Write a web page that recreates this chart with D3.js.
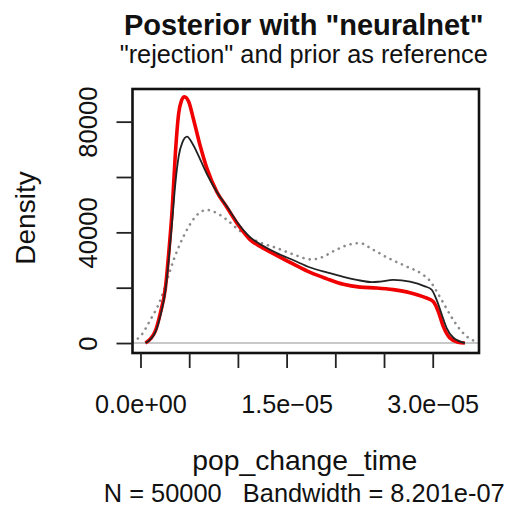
<!DOCTYPE html>
<html>
<head>
<meta charset="utf-8">
<script src="https://cdn.jsdelivr.net/npm/d3@7"></script>
<style>
  html, body { margin: 0; padding: 0; background: #fff; }
  svg { display: block; }
  text { font-family: "Liberation Sans", Arial, Helvetica, sans-serif; fill: #111; }
</style>
</head>
<body>
<svg id="chart" width="526" height="512"></svg>
<script>
// Posterior density of pop_change_time (neuralnet), with the rejection
// posterior and the prior drawn as references.

const titleText = 'Posterior with "neuralnet"';
const subtitleText = '"rejection" and prior as reference';
const xLabel = "pop_change_time";
const subLabel = "N = 50000   Bandwidth = 8.201e-07";
const yLabel = "Density";

// Axis ticks
const xTicks = [0, 5e-6, 1e-5, 1.5e-5, 2e-5, 2.5e-5, 3e-5];
const xTickLabels = ["0.0e+00", "", "", "1.5e\u221205", "", "", "3.0e\u221205"];
const yTicks = [0, 20000, 40000, 60000, 80000];
const yTickLabels = ["0", "", "40000", "", "80000"];

// Axis limits
const xDomain = [-0.82e-6, 34.75e-6];
const yDomain = [-3600, 91800];

// neuralnet posterior (red)
const neuralnetX = [0.51, 1.02, 1.54, 2.05, 2.56, 2.90, 3.25, 3.59, 3.92, 4.20, 4.51, 4.95, 5.46, 6.15, 6.83, 7.86, 8.88, 10.07, 11.27, 12.30, 14.01, 15.71, 17.42, 19.13, 20.83, 22.54, 24.25, 25.95, 27.66, 29.20, 30.05, 30.56, 31.08, 31.76, 32.58, 33.30].map(v => v * 1e-6);
const neuralnetY = [0, 1500, 4500, 11000, 20000, 32500, 48100, 69000, 83000, 87500, 89000, 87200, 80600, 71000, 63000, 54500, 49000, 42500, 37300, 34900, 31600, 28500, 25500, 23200, 21200, 20200, 19900, 19300, 18200, 16500, 15000, 11500, 6000, 1800, 300, 0];

// rejection posterior (black)
const rejectionX = [0.51, 1.02, 1.54, 2.05, 2.56, 2.90, 3.25, 3.59, 3.92, 4.30, 4.78, 5.30, 6.15, 6.83, 7.86, 8.88, 10.07, 11.27, 12.30, 14.01, 15.71, 17.42, 19.13, 20.83, 22.54, 23.77, 24.59, 25.95, 27.66, 29.20, 29.88, 30.40, 30.91, 31.42, 32.10, 33.30].map(v => v * 1e-6);
const rejectionY = [0, 1300, 4000, 10000, 19000, 30000, 44000, 58000, 67500, 72500, 74600, 72300, 66200, 61000, 54500, 49300, 43000, 38200, 35700, 32500, 29900, 27300, 25500, 23900, 22600, 22000, 22200, 22800, 22200, 20500, 19300, 15600, 10500, 5500, 2000, 0];

// prior (grey dotted)
const priorX = [-0.82, 0, 1.02, 2.05, 2.74, 3.41, 4.10, 4.95, 5.81, 6.83, 7.86, 8.88, 10.07, 11.27, 12.30, 14.01, 15.71, 17.59, 18.62, 19.98, 21.34, 22.54, 23.74, 25.44, 27.15, 28.86, 29.71, 30.43, 31.25, 32.10, 33.12, 33.99, 34.75].map(v => v * 1e-6);
const priorY = [500, 2500, 8400, 15600, 22900, 30100, 36100, 42100, 46300, 48100, 46900, 44500, 40900, 38000, 36300, 34300, 32000, 30200, 31000, 33500, 35500, 36100, 34000, 30700, 27900, 25000, 22500, 18500, 13500, 8400, 3600, 1200, 500];

const svg = d3.select("#chart");
const plot = { left: 132.5, right: 479, top: 89, bottom: 353 };

const x = d3.scaleLinear().domain(xDomain).range([plot.left, plot.right]);
const y = d3.scaleLinear().domain(yDomain).range([plot.bottom, plot.top]);

// clip curves to the plot region
svg.append("defs").append("clipPath").attr("id", "plotClip")
  .append("rect")
  .attr("x", plot.left).attr("y", plot.top)
  .attr("width", plot.right - plot.left).attr("height", plot.bottom - plot.top);

const g = svg.append("g").attr("clip-path", "url(#plotClip)");

// zero reference line
g.append("line")
  .attr("x1", plot.left).attr("x2", plot.right)
  .attr("y1", y(0)).attr("y2", y(0))
  .attr("stroke", "#c8c8c8").attr("stroke-width", 2);

const line = d3.line().x(d => x(d[0])).y(d => y(d[1])).curve(d3.curveMonotoneX);

g.append("path")
  .datum(d3.zip(priorX, priorY))
  .attr("d", line)
  .attr("fill", "none")
  .attr("stroke", "#8c8c8c")
  .attr("stroke-width", 2.6)
  .attr("stroke-linecap", "round")
  .attr("stroke-dasharray", "0.1 6.2");

g.append("path")
  .datum(d3.zip(neuralnetX, neuralnetY))
  .attr("d", line)
  .attr("fill", "none")
  .attr("stroke", "#f00000")
  .attr("stroke-width", 3.6)
  .attr("stroke-linejoin", "round");

g.append("path")
  .datum(d3.zip(rejectionX, rejectionY))
  .attr("d", line)
  .attr("fill", "none")
  .attr("stroke", "#222")
  .attr("stroke-width", 1.8)
  .attr("stroke-linejoin", "round");

// plot frame
svg.append("rect")
  .attr("x", plot.left).attr("y", plot.top)
  .attr("width", plot.right - plot.left).attr("height", plot.bottom - plot.top)
  .attr("fill", "none").attr("stroke", "#111").attr("stroke-width", 2.6);

// x axis
const xAxis = d3.axisBottom(x)
  .tickValues(xTicks)
  .tickSize(15)
  .tickPadding(27)
  .tickFormat((d, i) => xTickLabels[i]);
const xa = svg.append("g").attr("transform", `translate(0,${plot.bottom})`).call(xAxis);
xa.select(".domain").remove();
xa.selectAll(".tick line").attr("stroke", "#222").attr("stroke-width", 1.8);
xa.selectAll(".tick text")
  .style("font-family", '"Liberation Sans", Arial, sans-serif')
  .style("font-size", "25.2px").attr("fill", "#111");

// y axis
const yAxis = d3.axisLeft(y)
  .tickValues(yTicks)
  .tickSize(16)
  .tickFormat((d, i) => yTickLabels[i]);
const ya = svg.append("g").attr("transform", `translate(${plot.left},0)`).call(yAxis);
ya.select(".domain").remove();
ya.selectAll(".tick line").attr("stroke", "#222").attr("stroke-width", 1.8);
ya.selectAll(".tick text")
  .attr("x", null).attr("dy", null)
  .attr("text-anchor", "middle")
  .attr("transform", "translate(-35.5,0) rotate(-90)")
  .style("font-family", '"Liberation Sans", Arial, sans-serif')
  .style("font-size", "25.6px").attr("fill", "#111");

const cx = (plot.left + plot.right) / 2;

svg.append("text")
  .attr("x", cx - 2).attr("y", 35)
  .attr("text-anchor", "middle")
  .style("font-size", "29px").style("font-weight", "bold")
  .text(titleText);

svg.append("text")
  .attr("x", cx - 2).attr("y", 63)
  .attr("text-anchor", "middle")
  .style("font-size", "25.3px")
  .text(subtitleText);

svg.append("text")
  .attr("x", cx - 1).attr("y", 470)
  .attr("text-anchor", "middle")
  .style("font-size", "28.3px")
  .text(xLabel);

svg.append("text")
  .attr("x", cx - 1.5).attr("y", 501.5)
  .attr("text-anchor", "middle")
  .style("font-size", "25.4px")
  .style("white-space", "pre")
  .attr("xml:space", "preserve")
  .text(subLabel);

svg.append("text")
  .attr("transform", `translate(35,${(plot.top + plot.bottom) / 2 - 3}) rotate(-90)`)
  .attr("text-anchor", "middle")
  .style("font-size", "28px")
  .text(yLabel);
</script>
</body>
</html>
